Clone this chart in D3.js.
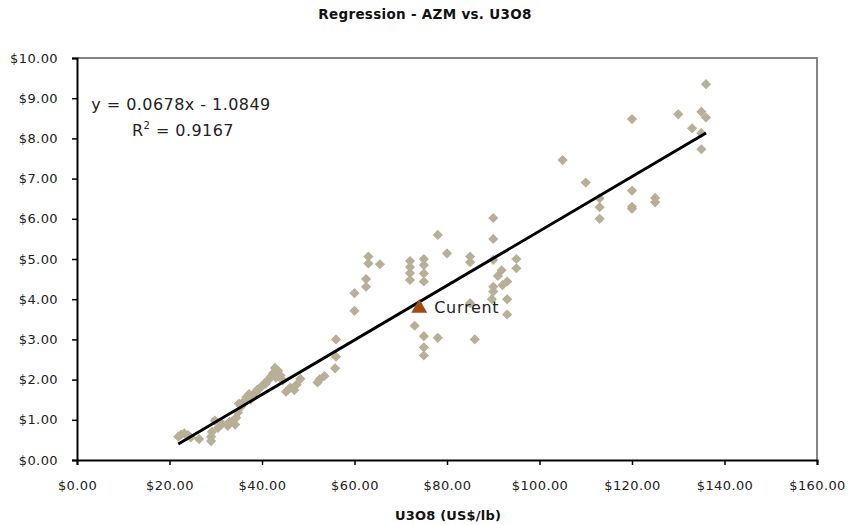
<!DOCTYPE html>
<html>
<head>
<meta charset="utf-8">
<script src="https://cdn.jsdelivr.net/npm/d3@7"></script>
<style>
  body { margin: 0; background: #fff; }
  svg { display: block; font-family: "DejaVu Sans", sans-serif; }
</style>
</head>
<body>
<svg id="chart" width="849" height="525"></svg>
<script>
// ---- data ----
const u3o8 = [21.9,22.5,23.2,24.0,24.6,26.4,29.0,29.0,29.2,29.8,31.4,32.6,33.5,34.2,34.4,34.8,35.5,36.1,36.6,37.2,38.0,38.7,39.4,40.0,40.6,41.3,41.8,42.4,42.8,43.5,44.0,44.5,45.2,46.1,47.0,47.5,48.3,52.0,52.5,53.5,55.8,56.0,56.0,
  30.5,33.0,35.0,37.5,39.0,40.8,43.0,
  60,60,62.5,62.5,63,63,65.5,72,72,72,72,73,75,75,75,75,75,75,75,78,78,80,85,85,85,86,90,90,90,90,90,89.7,91,91.8,92,93,93,93,95,95,
  105,110,113,113,113,120,120,120,120,125,125,130,133,135,135,135,136,136];
const azm = [0.58,0.63,0.66,0.62,0.56,0.52,0.47,0.58,0.70,0.98,0.90,0.85,0.96,0.88,1.05,1.18,1.33,1.46,1.56,1.64,1.60,1.70,1.77,1.84,1.91,1.98,2.06,2.16,2.29,2.22,2.10,1.98,1.70,1.80,1.74,1.88,2.02,1.93,2.01,2.09,2.28,2.57,3.00,
  0.80,0.95,1.40,1.50,1.75,1.90,2.05,
  4.15,3.71,4.50,4.31,5.06,4.89,4.87,4.95,4.80,4.65,4.48,3.34,5.00,4.85,4.64,4.44,3.08,2.80,2.60,3.04,5.60,5.14,5.06,4.92,3.90,3.00,6.02,5.50,4.98,4.31,4.19,4.00,4.58,4.72,4.35,4.44,4.00,3.62,5.00,4.77,
  7.46,6.90,6.51,6.29,6.00,8.48,6.70,6.30,6.25,6.52,6.41,8.60,8.25,8.66,8.13,7.73,8.52,9.35];
const current = {u3o8: 74, azm: 3.8, label: "Current"};
const slope = 0.0678, intercept = -1.0849, r2 = 0.9167;
const xTicks = [0,20,40,60,80,100,120,140,160];
const yTicks = [0,1,2,3,4,5,6,7,8,9,10];
const title = "Regression - AZM vs. U3O8";
const xTitle = "U3O8 (US$/lb)";

// ---- chart ----
const svg = d3.select("#chart");
const x = d3.scaleLinear().domain([0,160]).range([77,817]);
const y = d3.scaleLinear().domain([0,10]).range([460,58]);
const fmt = d => "$" + d3.format(".2f")(d);

// frame (top/right)
svg.append("path")
  .attr("d", `M${x(0)},${y(10)}H${x(160)}V${y(0)}`)
  .attr("fill","none").attr("stroke","#858585").attr("stroke-width",2);

// axes
const xAxis = svg.append("g").attr("transform",`translate(0,${y(0)})`)
  .call(d3.axisBottom(x).tickValues(xTicks).tickFormat(fmt).tickSize(5).tickPadding(16));
const yAxis = svg.append("g").attr("transform",`translate(${x(0)},0)`)
  .call(d3.axisLeft(y).tickValues(yTicks).tickFormat(fmt).tickSize(5).tickPadding(14));
[xAxis,yAxis].forEach(g=>{
  g.select(".domain").attr("stroke","#000").attr("stroke-width",2);
  g.selectAll(".tick line").attr("stroke","#000").attr("stroke-width",1.5);
  g.selectAll(".tick text").attr("font-family","DejaVu Sans").attr("font-size",13)
    .attr("fill","#222").style("letter-spacing","0.4px");
});

// points
const pts = u3o8.map((v,i)=>({u:v,a:azm[i]}));
svg.append("g").selectAll("path").data(pts).join("path")
  .attr("d", d3.symbol(d3.symbolSquare, 52)())
  .attr("transform", d=>`translate(${x(d.u)},${y(d.a)}) rotate(45)`)
  .attr("fill","#b8af97");

// regression line
const xmin = d3.min(u3o8), xmax = d3.max(u3o8);
svg.append("line")
  .attr("x1", x(xmin)).attr("y1", y(slope*xmin+intercept))
  .attr("x2", x(xmax)).attr("y2", y(slope*xmax+intercept))
  .attr("stroke","#000").attr("stroke-width",3);

// current
svg.append("path")
  .attr("d", d3.symbol(d3.symbolTriangle, 110)())
  .attr("transform", `translate(${x(current.u3o8)},${y(current.azm)+1})`)
  .attr("fill","#a24a10");
svg.append("text")
  .attr("x", x(current.u3o8)+15).attr("y", y(current.azm)+6)
  .attr("font-size",16).attr("fill","#222").style("letter-spacing","0.7px")
  .text(current.label);

// equation
const eq = svg.append("text").attr("font-size",16).attr("fill","#222")
  .attr("text-anchor","middle").style("letter-spacing","0.45px");
eq.append("tspan").attr("x",181).attr("y",110)
  .text(`y = ${slope}x - ${Math.abs(intercept)}`);
const r = svg.append("text").attr("font-size",16).attr("fill","#222")
  .attr("text-anchor","middle").style("letter-spacing","0.45px")
  .attr("x",183).attr("y",136);
r.append("tspan").text("R");
r.append("tspan").attr("font-size",10).attr("dy",-7).text("2");
r.append("tspan").attr("dy",7).text(` = ${r2}`);

// titles
svg.append("text").attr("x",425).attr("y",19).attr("text-anchor","middle")
  .attr("font-size",13.5).attr("font-weight","bold").attr("fill","#111")
  .style("letter-spacing","0.3px").text(title);
svg.append("text").attr("x",448).attr("y",520).attr("text-anchor","middle")
  .attr("font-size",13).attr("font-weight","bold").attr("fill","#111")
  .style("letter-spacing","0.2px").text(xTitle);
</script>
</body>
</html>
